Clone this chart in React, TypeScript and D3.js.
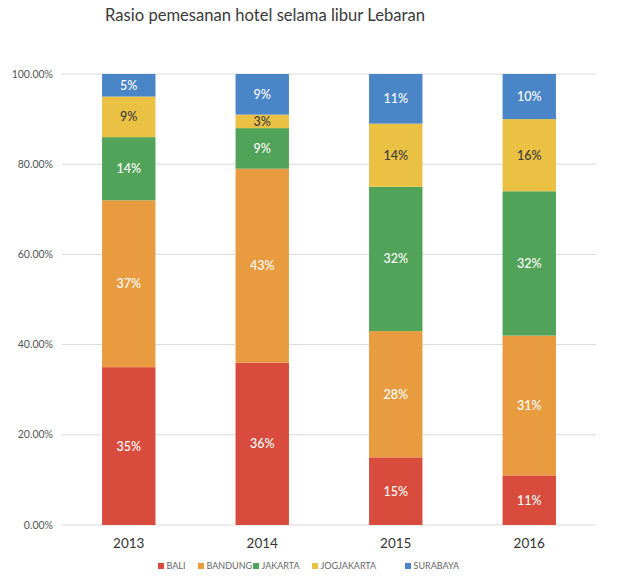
import { useEffect, useRef } from "react";
import * as d3 from "d3";

const years = ["2013", "2014", "2015", "2016"];
const cities = ["BALI", "BANDUNG", "JAKARTA", "JOGJAKARTA", "SURABAYA"];
const bali = [35, 36, 15, 11];
const bandung = [37, 43, 28, 31];
const jakarta = [14, 9, 32, 32];
const jogjakarta = [9, 3, 14, 16];
const surabaya = [5, 9, 11, 10];
const yTicks = [0, 20, 40, 60, 80, 100];
const colors = ["#d94c3d", "#e89c3f", "#52a35a", "#ebc144", "#4a85c8"];
const labelColors = ["#fff", "#fff", "#fff", "#3a3a3a", "#fff"];

const font = "Lato, 'Open Sans', sans-serif";

export default function App() {
  const ref = useRef<SVGSVGElement | null>(null);

  useEffect(() => {
    if (!ref.current) return;
    const svg = d3.select(ref.current);
    svg.selectAll("*").remove();

    const width = 617;
    const height = 579;
    const margin = { top: 74, right: 21, bottom: 54, left: 62 };

    const series = [bali, bandung, jakarta, jogjakarta, surabaya];
    const rows = years.map((year, i) => {
      const row: Record<string, any> = { year };
      cities.forEach((c, j) => (row[c] = series[j][i]));
      return row;
    });
    const stacked = d3.stack<any>().keys(cities)(rows);

    const x = d3
      .scaleBand()
      .domain(years)
      .range([margin.left, width - margin.right])
      .paddingInner(0.6)
      .paddingOuter(0.3);

    const y = d3
      .scaleLinear()
      .domain([0, 100])
      .range([height - margin.bottom, margin.top]);

    svg
      .append("text")
      .attr("x", 265)
      .attr("y", 21)
      .attr("text-anchor", "middle")
      .attr("font-family", font)
      .attr("font-size", 16.6)
      .attr("fill", "#3a3a3a")
      .text("Rasio pemesanan hotel selama libur Lebaran");

    // gridlines + y tick labels
    const grid = svg.append("g");
    grid
      .selectAll("line")
      .data(yTicks)
      .join("line")
      .attr("x1", margin.left)
      .attr("x2", width - margin.right)
      .attr("y1", (d) => y(d))
      .attr("y2", (d) => y(d))
      .attr("stroke", "#d9d9d9")
      .attr("stroke-width", 1);
    grid
      .selectAll("text")
      .data(yTicks)
      .join("text")
      .attr("x", 53)
      .attr("y", (d) => y(d))
      .attr("dy", "0.35em")
      .attr("text-anchor", "end")
      .attr("font-family", font)
      .attr("font-size", 10.5)
      .attr("fill", "#555")
      .text((d) => d.toFixed(2) + "%");

    const layers = svg
      .append("g")
      .selectAll("g")
      .data(stacked)
      .join("g")
      .attr("fill", (_, i) => colors[i]);

    layers
      .selectAll("rect")
      .data((d) => d)
      .join("rect")
      .attr("x", (d) => x(d.data.year) ?? 0)
      .attr("y", (d) => y(d[1]))
      .attr("width", x.bandwidth())
      .attr("height", (d) => y(d[0]) - y(d[1]));

    layers
      .selectAll("text")
      .data((d, i) => d.map((v) => ({ v, i })))
      .join("text")
      .attr("x", (d) => (x(d.v.data.year) ?? 0) + x.bandwidth() / 2)
      .attr("y", (d) => (y(d.v[0]) + y(d.v[1])) / 2)
      .attr("dy", "0.36em")
      .attr("text-anchor", "middle")
      .attr("font-family", font)
      .attr("font-size", 12.5)
      .attr("font-weight", 500)
      .attr("fill", (d) => labelColors[d.i])
      .text((d) => `${d.v[1] - d.v[0]}%`);

    // year labels
    svg
      .append("g")
      .selectAll("text")
      .data(years)
      .join("text")
      .attr("x", (d) => (x(d) ?? 0) + x.bandwidth() / 2)
      .attr("y", 548)
      .attr("text-anchor", "middle")
      .attr("font-family", font)
      .attr("font-size", 13.5)
      .attr("fill", "#333")
      .text((d) => d);

    // legend
    const legendX = [158, 198, 253, 312, 405];
    const legend = svg
      .append("g")
      .selectAll("g")
      .data(cities)
      .join("g")
      .attr("transform", (_, i) => `translate(${legendX[i]},566)`);
    legend
      .append("rect")
      .attr("x", 0)
      .attr("y", -3)
      .attr("width", 6)
      .attr("height", 6)
      .attr("fill", (_, i) => colors[i]);
    legend
      .append("text")
      .attr("x", 8.5)
      .attr("dy", "0.35em")
      .attr("font-family", font)
      .attr("font-size", 9)
      .attr("fill", "#666")
      .text((d) => d);
  }, []);

  return (
    <svg
      ref={ref}
      width={617}
      height={579}
      style={{ position: "absolute", left: 0, top: 0, background: "#fff" }}
    />
  );
}
